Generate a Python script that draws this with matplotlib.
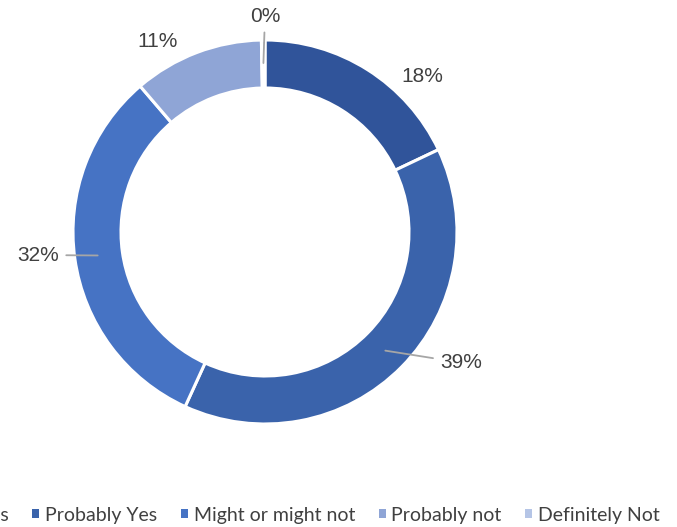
import numpy as np
import matplotlib.pyplot as plt
from matplotlib.patches import Patch

# survey answers
labels = ["Definitely Yes", "Probably Yes", "Might or might not", "Probably not", "Definitely Not"]
values = [18, 39, 32, 11, 0.3]
pct_text = ["18%", "39%", "32%", "11%", "0%"]
colors = ["#30549A", "#3A63AB", "#4673C4", "#8FA5D6", "#B5C5E6"]

# where each percentage label sits (data units, radius 1 = outer ring)
label_pos = [(0.82, 0.81), (1.02, -0.68), (-1.18, -0.12), (-0.56, 0.99), (0.0, 1.125)]
has_leader = [False, True, True, False, True]

fig = plt.figure(figsize=(6.77, 5.27), dpi=100)
ax = fig.add_axes([0, 0, 1, 1])

wedges, _ = ax.pie(values, colors=colors, startangle=90, counterclock=False,
                   radius=1, wedgeprops=dict(width=0.25, edgecolor="white", linewidth=2.2))

for w, txt, pos, lead in zip(wedges, pct_text, label_pos, has_leader):
    mid = np.deg2rad((w.theta1 + w.theta2) / 2)
    if lead:
        start = (0.88 * np.cos(mid), 0.88 * np.sin(mid))
        ax.annotate(txt, xy=start, xytext=pos, ha="center", va="center",
                    fontsize=15, color="#404040", family="Liberation Sans",
                    arrowprops=dict(arrowstyle="-", color="#A6A6A6", lw=1.3,
                                    shrinkA=3, shrinkB=0))
    else:
        ax.text(pos[0], pos[1], txt, ha="center", va="center",
                fontsize=15, color="#404040", family="Liberation Sans")

s = 192.0
ax.set_xlim(-265 / s, (677 - 265) / s)
ax.set_ylim(-(527 - 232) / s, 232 / s)
ax.set_aspect("equal")
ax.axis("off")

handles = [Patch(facecolor=c, edgecolor="none") for c in colors]
fig.legend(handles, labels, loc="center right", bbox_to_anchor=(660 / 677, 1 - 515 / 527),
           ncol=5, frameon=False, handlelength=0.36, handleheight=0.36, handletextpad=0.3,
           columnspacing=1.22, prop={"family": "Lato", "size": 14}, labelcolor="#404040",
           borderaxespad=0, borderpad=0)

fig.savefig("out.png", dpi=100)
